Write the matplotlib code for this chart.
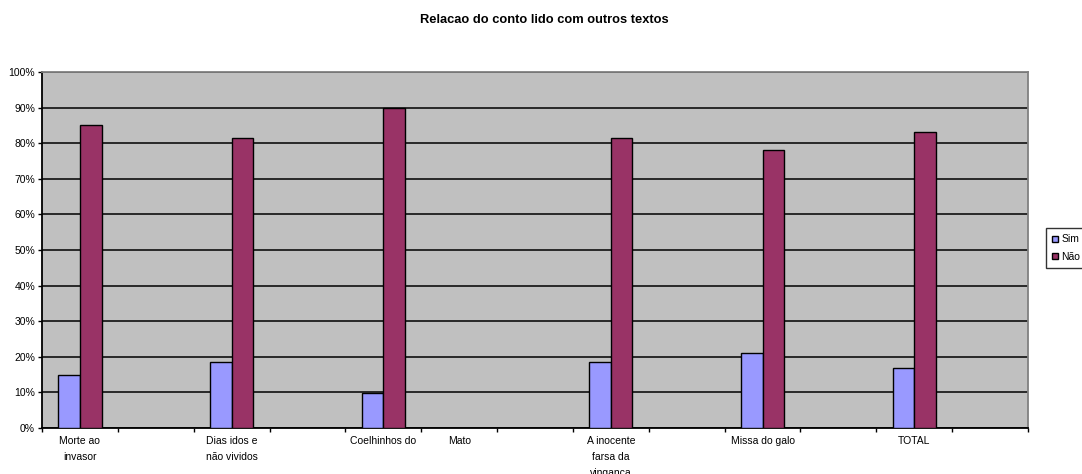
import numpy as np
import matplotlib.pyplot as plt
from matplotlib.lines import Line2D

plt.rcParams['font.family'] = ['Liberation Sans', 'DejaVu Sans']

# category slots as laid out in the worksheet (blank slots keep the spacing)
categories = ['Morte ao\ninvasor', '', 'Dias idos e\nnão vividos', '', 'Coelhinhos do',
              'Mato', '', 'A inocente\nfarsa da\nvingança', '', 'Missa do galo', '',
              'TOTAL', '']
sim = [15.0, None, 18.4, None, 9.8, None, None, 18.4, None, 21.2, None, 16.8, None]
nao = [85.0, None, 81.6, None, 90.0, None, None, 81.5, None, 78.0, None, 83.2, None]

sim_color = '#9999FF'
nao_color = '#993366'

fig = plt.figure(figsize=(10.82, 4.74), dpi=100)
ax = fig.add_axes([42 / 1082, 46 / 474, 986 / 1082, 356 / 474])
ax.set_facecolor('#C0C0C0')

x = np.arange(len(categories))
s = np.array([np.nan if v is None else v for v in sim])
n = np.array([np.nan if v is None else v for v in nao])
w = 0.285
ax.bar(x - w / 2, s, w, color=sim_color, edgecolor='black', linewidth=1, zorder=3)
ax.bar(x + w / 2, n, w, color=nao_color, edgecolor='black', linewidth=1, zorder=3)

ax.set_xlim(-0.5, len(categories) - 0.5)
ax.set_ylim(0, 100)

ax.set_yticks(np.arange(0, 101, 10))
ax.set_yticklabels([f'{v}%' for v in range(0, 101, 10)], fontsize=7.5)
ax.yaxis.grid(True, color='black', linewidth=1.1, zorder=1)
ax.set_axisbelow(True)

ax.set_xticks(x)
ax.set_xticklabels(categories, fontsize=7.5, linespacing=1.75, va='top')
ax.set_xticks(np.arange(-0.5, len(categories)), minor=True)
ax.tick_params(axis='x', which='major', length=0, pad=6)
ax.tick_params(axis='x', which='minor', length=3, width=1, direction='out')
ax.tick_params(axis='y', length=3, width=1, direction='out', pad=2)

for side in ['left', 'bottom']:
    ax.spines[side].set_color('black')
    ax.spines[side].set_linewidth(1.3)
for side in ['top', 'right']:
    ax.spines[side].set_color('#808080')
    ax.spines[side].set_linewidth(1.3)

fig.text(0.503, 1 - 20 / 474, 'Relacao do conto lido com outros textos',
         ha='center', va='center', fontsize=9.3, fontweight='bold')

handles = [Line2D([], [], marker='s', linestyle='none', markersize=5,
                  markerfacecolor=sim_color, markeredgecolor='black'),
           Line2D([], [], marker='s', linestyle='none', markersize=5,
                  markerfacecolor=nao_color, markeredgecolor='black')]
leg = fig.legend(handles, ['Sim', 'Não'], loc='center left',
                 bbox_to_anchor=(1046 / 1082, 1 - 248 / 474), fontsize=7.5,
                 frameon=True, fancybox=False, handlelength=0.6, handletextpad=0.3,
                 borderpad=0.6, labelspacing=0.7, borderaxespad=0)
leg.get_frame().set_edgecolor('black')
leg.get_frame().set_linewidth(1)

fig.savefig('out.png', dpi=100)
